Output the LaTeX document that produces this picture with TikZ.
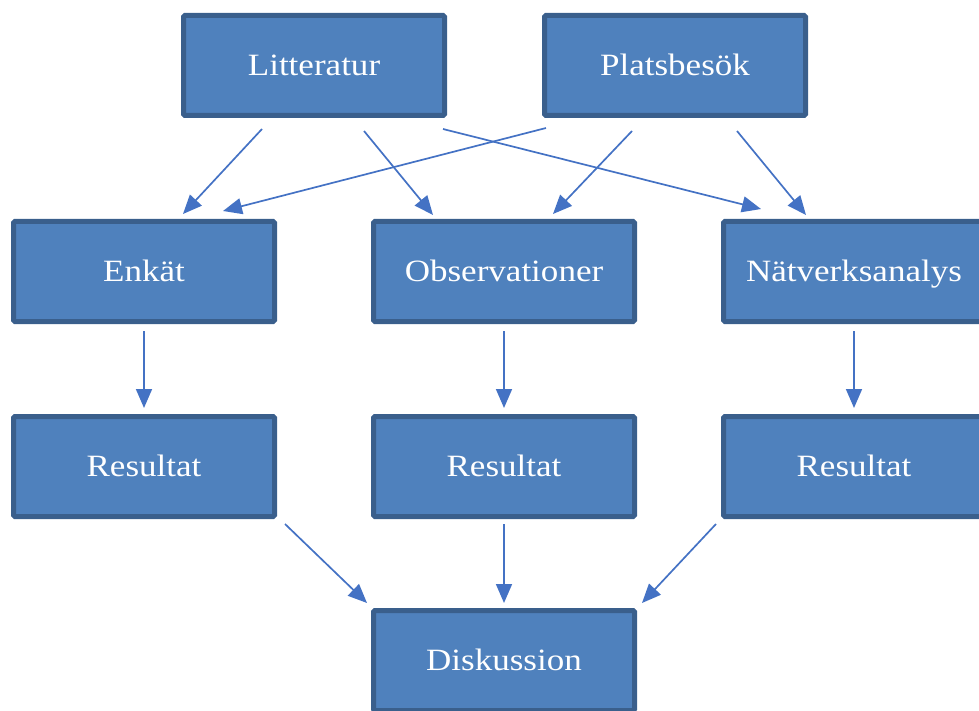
\documentclass[tikz,border=0pt]{standalone}
\usepackage{fontspec}
\setmainfont[FakeStretch=1.13]{Liberation Serif}
\usetikzlibrary{arrows.meta}
\definecolor{boxfill}{HTML}{4F81BD}
\definecolor{boxline}{HTML}{3A5F8C}
\definecolor{arrowc}{HTML}{4472C4}
\tikzset{
  stepbox/.style={draw=boxline, line width=5pt, fill=boxfill, rounded corners=1.5pt,
    minimum width=261pt, minimum height=100pt, inner sep=0pt, text=white,
    text height=23.5pt, text depth=4pt,
    font=\fontsize{31}{35}\selectfont},
  conn/.style={draw=arrowc, line width=1.7pt, -{Triangle[length=19pt,width=16pt]}}
}
\begin{document}
\begin{tikzpicture}[x=1pt,y=-1pt]
\useasboundingbox (0,0) rectangle (979,711);
\clip (0,0) rectangle (979,711);
\node[stepbox] (lit) at (314,65.5) {Litteratur};
\node[stepbox] (plats) at (675,65.5) {Platsbesök};
\node[stepbox] (enk) at (144,271.5) {Enkät};
\node[stepbox] (obs) at (504,271.5) {Observationer};
\node[stepbox] (nat) at (854,271.5) {Nätverksanalys};
\node[stepbox] (res1) at (144,466.5) {Resultat};
\node[stepbox] (res2) at (504,466.5) {Resultat};
\node[stepbox] (res3) at (854,466.5) {Resultat};
\node[stepbox] (disk) at (504,660.5) {Diskussion};
% arrow ends
\coordinate (a1s) at (262,129); \coordinate (a1e) at (183,214);
\coordinate (a2s) at (364,131); \coordinate (a2e) at (433,215);
\coordinate (a3s) at (443,129); \coordinate (a3e) at (761,209);
\coordinate (b1s) at (546,128); \coordinate (b1e) at (223,211);
\coordinate (b2s) at (632,131); \coordinate (b2e) at (553,214);
\coordinate (b3s) at (737,131); \coordinate (b3e) at (806,215);
\coordinate (c1s) at (144,331); \coordinate (c1e) at (144,408);
\coordinate (c2s) at (504,331); \coordinate (c2e) at (504,408);
\coordinate (c3s) at (854,331); \coordinate (c3e) at (854,408);
\coordinate (d1s) at (285,524); \coordinate (d1e) at (367,603);
\coordinate (d2s) at (504,524); \coordinate (d2e) at (504,603);
\coordinate (d3s) at (716,524); \coordinate (d3e) at (642,603);
\draw[conn] (a1s) -- (a1e);
\draw[conn] (a2s) -- (a2e);
\draw[conn] (a3s) -- (a3e);
\draw[conn] (b1s) -- (b1e);
\draw[conn] (b2s) -- (b2e);
\draw[conn] (b3s) -- (b3e);
\draw[conn] (c1s) -- (c1e);
\draw[conn] (c2s) -- (c2e);
\draw[conn] (c3s) -- (c3e);
\draw[conn] (d1s) -- (d1e);
\draw[conn] (d2s) -- (d2e);
\draw[conn] (d3s) -- (d3e);
\end{tikzpicture}
\end{document}
